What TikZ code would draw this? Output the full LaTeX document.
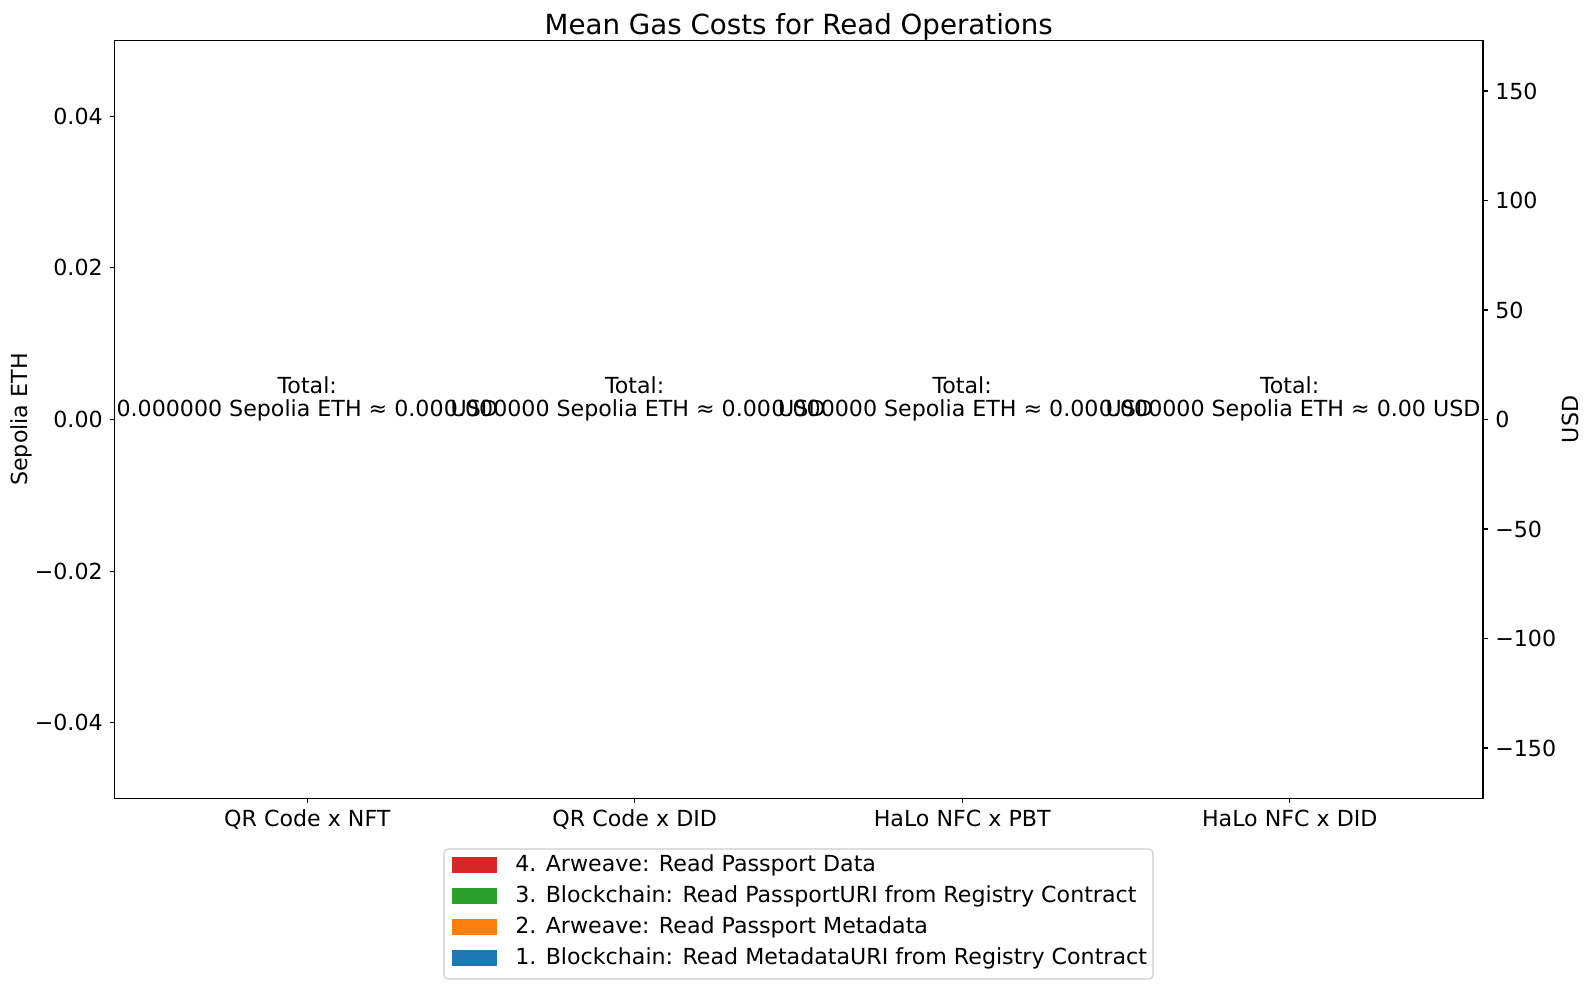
\documentclass[tikz,border=0pt]{standalone}
\usepackage{fontspec}
\setmainfont{DejaVu Sans}
\usepackage{tikz}

\definecolor{cblue}{HTML}{1F77B4}
\definecolor{corange}{HTML}{FF7F0E}
\definecolor{cgreen}{HTML}{2CA02C}
\definecolor{cred}{HTML}{D62728}
\definecolor{cframe}{HTML}{CCCCCC}

\tikzset{
	ticklab/.style = {font=\fontsize{16}{19}\selectfont, inner sep=0pt},
	totlab/.style = {font=\fontsize{16}{19}\selectfont, inner sep=0pt},
	legpatch/.style = {minimum width=32.4pt, minimum height=11.5pt, inner sep=0pt},
}

\begin{document}
\begin{tikzpicture}[x=0.01in, y=-0.01in]

	\useasboundingbox[fill=white] (0,0) rectangle (1590,989);

	\coordinate (ul) at (114.6,40.5);
	\coordinate (lr) at (1483,798.5);
	\draw[line width = 0.8pt] (ul) rectangle (lr);

	% left axis, 0.02 = 151.6 px
	\foreach \v/\y in {0.04/116.3, 0.02/267.9, 0.00/419.5, −0.02/571.1, −0.04/722.7}{
		\draw[line width = 0.8pt] (109.7,\y) -- (114.6,\y);
		\node[ticklab, anchor=east] at (103,\y) {\v};
	}
	% right axis, 50 = 109.5 px
	\foreach \v/\y in {150/91, 100/200.5, 50/310, 0/419.5, −50/529, −100/638.5, −150/748}{
		\draw[line width = 0.8pt] (1483,\y) -- (1487.9,\y);
		\node[ticklab, anchor=west] at (1495,\y) {\v};
	}

	% categories
	\foreach \x/\name in {307.3/QR Code x NFT, 634.7/QR Code x DID, 962.2/HaLo NFC x PBT, 1289.7/HaLo NFC x DID}{
		\draw[line width = 0.8pt] (\x,798.5) -- (\x,803.4);
		\node[ticklab, anchor=base] at (\x,826) {\name};
		\node[totlab, anchor=base] at (\x,393.3) {Total:};
		\node[totlab, anchor=base] at (\x,416.7) {0.000000 Sepolia ETH ≈ 0.00 USD};
	}

	\node[font=\fontsize{20}{24}\selectfont, anchor=base] (title) at (798.8,34) {Mean Gas Costs for Read Operations};
	\node[ticklab, rotate=90, anchor=base] (ylab) at (27,419.5) {Sepolia ETH};
	\node[ticklab, rotate=90, anchor=base] (ylabr) at (1578,419.5) {USD};

	% legend
	\draw[cframe, rounded corners=3pt, line width = 0.8pt, fill=white] (444,849) rectangle (1153,979);
	\foreach \c/\y/\t in {cred/865/4. Arweave: Read Passport Data,
		cgreen/896/3. Blockchain: Read PassportURI from Registry Contract,
		corange/927/2. Arweave: Read Passport Metadata,
		cblue/958/1. Blockchain: Read MetadataURI from Registry Contract}{
		\node[legpatch, fill=\c] at (474.5,\y) {};
		\node[ticklab, anchor=west] at (515,\y) {\t};
	}

\end{tikzpicture}
\end{document}
